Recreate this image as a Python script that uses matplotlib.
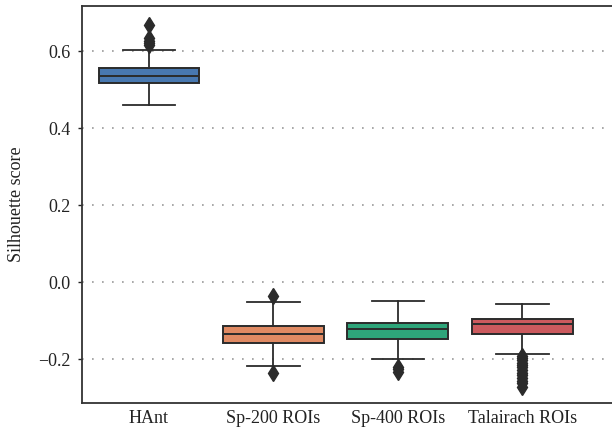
import matplotlib
matplotlib.use("Agg")
import matplotlib.pyplot as plt

categories = ["HAnt", "Sp-200 ROIs", "Sp-400 ROIs", "Talairach ROIs"]
medians = [0.535, -0.135, -0.122, -0.109]
q1 = [0.517, -0.158, -0.148, -0.134]
q3 = [0.556, -0.113, -0.107, -0.096]
whislo = [0.462, -0.217, -0.199, -0.186]
whishi = [0.604, -0.050, -0.048, -0.056]
fliers = [
    [0.669, 0.636, 0.628, 0.621, 0.616],
    [-0.036, -0.235],
    [-0.219, -0.225, -0.232],
    [-0.191, -0.197, -0.203, -0.209, -0.215, -0.221, -0.228, -0.235, -0.242,
     -0.249, -0.256, -0.263, -0.271],
]
colors = ["#4878b0", "#e08a63", "#2ea57a", "#cc5a5e"]
yticks = [-0.2, 0.0, 0.2, 0.4, 0.6]

plt.rcParams["font.family"] = ["Liberation Serif", "DejaVu Serif"]

fig = plt.figure(figsize=(6.12, 4.34), dpi=100)
ax = fig.add_axes([82 / 612, 1 - 402.7 / 434, 540 / 612, (402.7 - 6) / 434])

stats = []
for i, c in enumerate(categories):
    stats.append(dict(label=c, med=medians[i], q1=q1[i], q3=q3[i],
                      whislo=whislo[i], whishi=whishi[i], fliers=fliers[i]))

edge = "#2b2b2b"
bp = ax.bxp(stats, positions=range(len(categories)), widths=0.81,
            patch_artist=True, showfliers=True,
            boxprops=dict(edgecolor=edge, linewidth=1.4),
            medianprops=dict(color=edge, linewidth=1.4),
            whiskerprops=dict(color=edge, linewidth=1.3),
            capprops=dict(color=edge, linewidth=1.3),
            capwidths=0.42,
            flierprops=dict(marker="d", markerfacecolor=edge, markeredgecolor=edge,
                            markersize=8))
for patch, col in zip(bp["boxes"], colors):
    patch.set_facecolor(col)

ax.set_xlim(-0.538, 3.72 + 10 / 124.5)
ax.set_ylim(-0.313, 0.718)
ax.set_yticks(yticks)
ax.set_yticklabels(["\u22120.2", "0.0", "0.2", "0.4", "0.6"])
ax.set_xticks(range(len(categories)))
ax.set_xticklabels(categories)
ax.tick_params(axis="y", length=3, width=1.0, direction="out", labelsize=13,
               colors="#222222", pad=5)
ax.tick_params(axis="x", length=0, labelsize=13, colors="#222222", pad=5)
ax.yaxis.grid(True, linestyle=(0, (1, 5)), color="#999999", linewidth=1.2)
ax.set_axisbelow(True)
ax.set_ylabel("Silhouette score", fontsize=13, color="#222222", labelpad=10)
for s in ["left", "bottom", "top"]:
    ax.spines[s].set_color("#333333")
    ax.spines[s].set_linewidth(1.3)
ax.spines["right"].set_visible(False)

fig.savefig("out.png", dpi=100)
